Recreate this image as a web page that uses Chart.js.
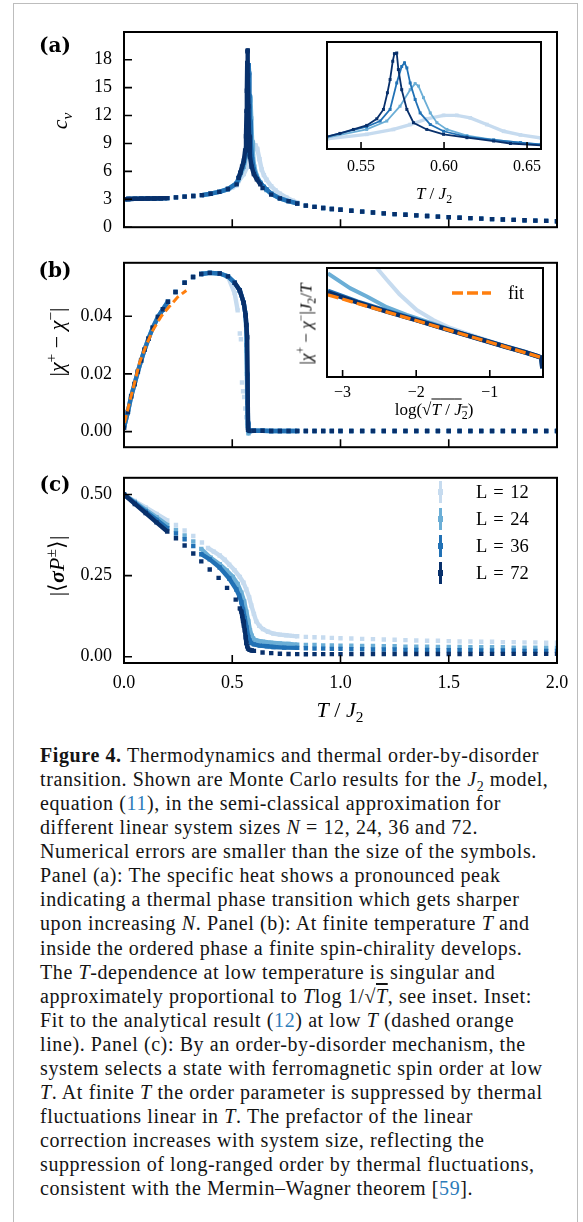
<!DOCTYPE html>
<html>
<head>
<meta charset="utf-8">
<title>Figure 4</title>
<script src="https://cdn.jsdelivr.net/npm/chart.js@4.4.1/dist/chart.umd.min.js"></script>
<style>
  body { margin: 0; background: #fff; }
  #page { position: relative; width: 583px; height: 1222px; overflow: hidden; font-family: "Liberation Serif", "Times New Roman", serif; color: #000; }
  #page canvas { position: absolute; }
  .frame { position: absolute; left: 13px; top: 3px; width: 563px; height: 1260px; border: 1px solid #bdbdbd; border-bottom: 0; }
  .lab { position: absolute; white-space: nowrap; transform: translate(-50%, -50%); line-height: 1; }
  .rot { transform: translate(-50%, -50%) rotate(-90deg); }
  .panel { font-family: "DejaVu Serif", serif; font-weight: bold; font-size: 20px; }
  .ax { font-size: 22px; }
  .axs { font-size: 17px; }
  sub, sup { font-size: 70%; line-height: 0; }
  .ov { text-decoration: overline; }
  .caption { position: absolute; left: 40px; top: 743px; font-size: 20px; letter-spacing: 0.6px; line-height: 24.06px; white-space: nowrap; color: #141414; }
  .caption .ref { color: #2b7bb9; }
  .leg { position: absolute; font-size: 18.5px; line-height: 1; white-space: nowrap; word-spacing: 2px; }
</style>
</head>
<body>
<div id="page">
  <div class="frame"></div>
</div>
<script>
const SERIES = ['L = 12', 'L = 24', 'L = 36', 'L = 72'];
const COLORS = ['#c6dbef', '#6baed6', '#2171b5', '#08306b'];
const FIT_COLOR = '#ff7f0e';

// high temperature grid shared by all panels (T/J2)
const tTail = [0.84, 0.88, 0.92, 0.96, 1.00, 1.05, 1.10, 1.15, 1.20, 1.25, 1.30, 1.35, 1.40,
               1.45, 1.50, 1.55, 1.60, 1.65, 1.70, 1.75, 1.80, 1.85, 1.90, 1.95, 2.00];

// ---- panel (a): specific heat c_v ----
const tCvLow = [0.005, 0.02, 0.05, 0.08, 0.11, 0.14, 0.17, 0.20, 0.24, 0.28, 0.32];
const cvLow  = [3.02, 3.03, 3.05, 3.06, 3.08, 3.09, 3.11, 3.13, 3.20, 3.28, 3.36];
const tCv12 = [0.36, 0.40, 0.44, 0.48, 0.50, 0.52, 0.5293, 0.5534, 0.5695, 0.5796, 0.5896, 0.5997,
               0.6077, 0.6158, 0.6258, 0.6359, 0.646, 0.6585, 0.68, 0.70, 0.72, 0.75, 0.78, 0.80];
const cv12  = [3.45, 3.6, 3.8, 4.05, 4.25, 4.5, 4.95, 5.7, 6.5, 7.3, 8.24, 8.8,
               8.8, 8.4, 7.3, 6.2, 5.6, 5.1, 4.4, 3.95, 3.6, 3.2, 2.85, 2.65];
const tCv24 = [0.36, 0.40, 0.44, 0.48, 0.52, 0.5293, 0.5534, 0.5655, 0.5735, 0.5796, 0.5826, 0.5846,
               0.5876, 0.5917, 0.5957, 0.6017, 0.6138, 0.6299, 0.646, 0.6585, 0.68, 0.72, 0.76, 0.80];
const cv24  = [3.45, 3.6, 3.8, 4.1, 4.7, 5.15, 6.5, 7.87, 10.3, 13.0, 14.0, 13.6,
               11.7, 9.2, 7.6, 6.5, 5.5, 4.77, 4.33, 4.0, 3.6, 3.1, 2.8, 2.55];
const tCv36 = [0.36, 0.40, 0.44, 0.48, 0.52, 0.5293, 0.5534, 0.5615, 0.5675, 0.5715, 0.5745, 0.5762, 0.5776,
               0.5796, 0.5826, 0.5856, 0.5917, 0.5997, 0.6138, 0.6299, 0.646, 0.6585, 0.68, 0.72, 0.76, 0.80];
const cv36  = [3.45, 3.6, 3.8, 4.1, 4.7, 5.3, 6.94, 7.87, 9.77, 14.1, 16.8, 17.4, 16.56,
               14.1, 11.4, 9.2, 7.3, 6.2, 5.3, 4.77, 4.33, 4.06, 3.6, 3.1, 2.8, 2.55];
const tCv72 = [0.36, 0.40, 0.44, 0.48, 0.52, 0.5293, 0.5373, 0.5454, 0.5534, 0.5595, 0.5635, 0.5659, 0.5675,
               0.5691, 0.5701, 0.5715, 0.5725, 0.5745, 0.5776, 0.5816, 0.5896, 0.5997, 0.6138, 0.6299,
               0.64, 0.68, 0.72, 0.76, 0.80];
const cv72  = [3.45, 3.6, 3.8, 4.1, 4.6, 5.3, 5.85, 6.5, 7.16, 8.24, 9.77, 12.5, 14.66,
               17.65, 18.9, 19.0, 16.3, 13.0, 9.77, 7.6, 6.5, 5.7, 5.15, 4.6,
               4.2, 3.5, 3.1, 2.8, 2.55];
const cvTail = [2.32, 2.18, 2.06, 1.96, 1.87, 1.77, 1.67, 1.58, 1.49, 1.41, 1.34, 1.27, 1.20,
                1.14, 1.08, 1.02, 0.97, 0.92, 0.87, 0.83, 0.79, 0.75, 0.71, 0.68, 0.64];

// ---- panel (b): chirality |chi+ - chi-| ----
const tChiLow = [0, 0.018, 0.033, 0.049, 0.064, 0.079, 0.095, 0.113, 0.133, 0.157, 0.18, 0.203,
                 0.238, 0.28, 0.319, 0.357, 0.396, 0.442, 0.48];
const chiLow  = [0.0014, 0.0068, 0.0122, 0.0165, 0.0208, 0.0246, 0.0284, 0.0322, 0.036, 0.0397, 0.0424, 0.045,
                 0.0484, 0.0516, 0.0536, 0.0546, 0.055, 0.0548, 0.0538];
const tChi12 = [0.511, 0.525, 0.535, 0.54, 0.545, 0.55, 0.555, 0.56, 0.565, 0.57, 0.575, 0.58];
const chi12  = [0.048, 0.042, 0.034, 0.032, 0.017, 0.014, 0.012, 0.008, 0.005, 0.002, 0.001, 0.0004];
const tChi24 = [0.511, 0.535, 0.553, 0.56, 0.565, 0.567, 0.568, 0.569, 0.57, 0.572, 0.575, 0.58];
const chi24  = [0.0516, 0.0489, 0.0446, 0.041, 0.035, 0.028, 0.020, 0.012, 0.006, 0.002, -0.0006, 0.0002];
const tChi36 = [0.511, 0.535, 0.553, 0.562, 0.565, 0.567, 0.569, 0.571, 0.573, 0.576, 0.58];
const chi36  = [0.0516, 0.0489, 0.0446, 0.0403, 0.037, 0.030, 0.020, 0.010, 0.003, 0.0004, 0.0002];
const tChi72 = [0.511, 0.535, 0.553, 0.562, 0.565, 0.569, 0.573, 0.58];
const chi72  = [0.0516, 0.0489, 0.0446, 0.0403, 0.037, 0.0327, 0.0006, 0.0003];
const tChiMid = [0.60, 0.64, 0.68, 0.72, 0.76, 0.80];
const chiMid  = [0.0003, 0.0003, 0.0002, 0.0002, 0.0002, 0.0002];
const chiTail = [0.0002, 0.0002, 0.0002, 0.0002, 0.0002, 0.0002, 0.0002, 0.0002, 0.0002, 0.0002, 0.0002, 0.0002, 0.0002,
                 0.0002, 0.0002, 0.0002, 0.0002, 0.0002, 0.0002, 0.0002, 0.0002, 0.0002, 0.0002, 0.0002, 0.0002];
const fitT   = [0.002, 0.018, 0.049, 0.072, 0.103, 0.133, 0.172, 0.211, 0.249, 0.288];
const fitChi = [0.003, 0.0079, 0.017, 0.024, 0.030, 0.0351, 0.040, 0.0435, 0.0467, 0.0489];

// inset (b): |chi+ - chi-| J2/T against log(sqrt(T/J2)), arbitrary units
const logT12 = [-2.6, -2.535, -2.4, -2.22, -1.993, -1.767, -1.542, -1.316, -1.0, -0.7, -0.45, -0.3];
const ratio12 = [1.05, 1.0, 0.892, 0.754, 0.615, 0.523, 0.452, 0.40, 0.33, 0.26, 0.205, 0.175];
const logT24 = [-3.2, -2.9, -2.67, -2.4, -2.13, -1.77, -1.4, -1.0, -0.6, -0.35, -0.3, -0.285];
const ratio24 = [0.95, 0.815, 0.738, 0.64, 0.57, 0.49, 0.405, 0.322, 0.24, 0.19, 0.178, 0.08];
const logT36 = [-3.2, -2.8, -2.4, -2.0, -1.6, -1.2, -0.8, -0.5, -0.35, -0.3, -0.285];
const ratio36 = [0.79, 0.692, 0.605, 0.525, 0.442, 0.362, 0.282, 0.224, 0.19, 0.178, 0.08];
const logT72 = [-3.2, -2.8, -2.4, -2.0, -1.6, -1.2, -0.8, -0.5, -0.35, -0.3, -0.285];
const ratio72 = [0.775, 0.685, 0.60, 0.522, 0.44, 0.36, 0.28, 0.222, 0.19, 0.178, 0.08];
const fitLogT = [-3.2, -2.5, -2.0, -1.5, -1.0, -0.5, -0.28];
const fitRatio = [0.754, 0.616, 0.518, 0.418, 0.319, 0.219, 0.175];

// ---- panel (c): order parameter |<sigma P>| ----
const tOpLow = [0, 0.05, 0.10, 0.15, 0.20, 0.24, 0.28, 0.32];
const op12Low = [0.5, 0.48, 0.46, 0.44, 0.42, 0.406, 0.389, 0.372];
const op24Low = [0.5, 0.477, 0.453, 0.43, 0.406, 0.391, 0.374, 0.355];
const op36Low = [0.5, 0.474, 0.448, 0.422, 0.396, 0.38, 0.362, 0.341];
const op72Low = [0.5, 0.471, 0.443, 0.414, 0.386, 0.365, 0.343, 0.318];
const tOp12 = [0.36, 0.388, 0.415, 0.442, 0.465, 0.486, 0.51, 0.535, 0.552, 0.565, 0.578, 0.588, 0.60,
               0.611, 0.625, 0.642, 0.665, 0.69, 0.72, 0.75, 0.775, 0.80];
const op12  = [0.352, 0.335, 0.324, 0.312, 0.299, 0.284, 0.267, 0.246, 0.228, 0.207, 0.183, 0.158, 0.132,
               0.109, 0.095, 0.085, 0.077, 0.071, 0.068, 0.066, 0.064, 0.063];
const tOp24 = [0.357, 0.40, 0.442, 0.475, 0.503, 0.525, 0.542, 0.555, 0.565, 0.574, 0.582, 0.59, 0.596,
               0.61, 0.642, 0.68, 0.72, 0.76, 0.80];
const op24  = [0.332, 0.305, 0.285, 0.265, 0.246, 0.224, 0.197, 0.17, 0.139, 0.11, 0.081, 0.065, 0.056,
               0.05, 0.046, 0.043, 0.041, 0.039, 0.037];
const tOp36 = [0.357, 0.396, 0.442, 0.486, 0.519, 0.532, 0.542, 0.55, 0.558, 0.566, 0.574, 0.58, 0.588,
               0.60, 0.627, 0.66, 0.69, 0.74, 0.80];
const op36  = [0.316, 0.300, 0.275, 0.241, 0.207, 0.188, 0.168, 0.145, 0.119, 0.09, 0.061, 0.05, 0.042,
               0.038, 0.034, 0.032, 0.030, 0.028, 0.027];
const tOp72 = [0.357, 0.396, 0.437, 0.476, 0.516, 0.535, 0.542, 0.546, 0.55, 0.554, 0.558, 0.562, 0.565,
               0.569, 0.573, 0.58, 0.59, 0.60, 0.64, 0.68, 0.72, 0.76, 0.80];
const op72  = [0.294, 0.269, 0.243, 0.212, 0.176, 0.149, 0.139, 0.125, 0.11, 0.095, 0.081, 0.06, 0.042,
               0.032, 0.025, 0.021, 0.019, 0.018, 0.0127, 0.011, 0.009, 0.0082, 0.0078];
const op12Tail = [0.061, 0.060, 0.059, 0.058, 0.057, 0.056, 0.055, 0.054, 0.053, 0.052, 0.051, 0.050, 0.049,
                  0.049, 0.048, 0.047, 0.047, 0.046, 0.046, 0.045, 0.045, 0.044, 0.044, 0.043, 0.043];
const op24Tail = [0.036, 0.036, 0.035, 0.035, 0.034, 0.034, 0.033, 0.033, 0.032, 0.032, 0.031, 0.031, 0.031,
                  0.030, 0.030, 0.030, 0.029, 0.029, 0.029, 0.029, 0.028, 0.028, 0.028, 0.028, 0.028];
const op36Tail = [0.026, 0.025, 0.025, 0.024, 0.024, 0.023, 0.023, 0.022, 0.022, 0.022, 0.021, 0.021, 0.021,
                  0.020, 0.020, 0.020, 0.020, 0.019, 0.019, 0.019, 0.019, 0.018, 0.018, 0.018, 0.018];
const op72Tail = [0.0076, 0.0077, 0.0078, 0.0078, 0.0079, 0.0080, 0.0080, 0.0081, 0.0081, 0.0082, 0.0082, 0.0083, 0.0083,
                  0.0083, 0.0084, 0.0084, 0.0084, 0.0085, 0.0085, 0.0085, 0.0086, 0.0086, 0.0086, 0.0087, 0.0087];

// ---- ticks ----
const tTicks = [0, 0.5, 1.0, 1.5, 2.0];
const tTickLabels = ['0.0', '0.5', '1.0', '1.5', '2.0'];
const cvTicks = [0, 3, 6, 9, 12, 15, 18];
const cvTickLabels = ['0', '3', '6', '9', '12', '15', '18'];
const chiTicks = [0, 0.02, 0.04];
const chiTickLabels = ['0.00', '0.02', '0.04'];
const opTicks = [0, 0.25, 0.5];
const opTickLabels = ['0.00', '0.25', '0.50'];
const insetTTicks = [0.55, 0.60, 0.65];
const insetTTickLabels = ['0.55', '0.60', '0.65'];
const insetLogTicks = [-3, -2, -1];
const insetLogTickLabels = ['\u22123', '\u22122', '\u22121'];

// T ranges where the simulation grid is so dense that the markers merge into a band
const denseA = [[[0, 0.2], [0.355, 0.81]], [[0, 0.2], [0.355, 0.81]], [[0, 0.2], [0.355, 0.81]], [[0, 0.2], [0.525, 0.635]]];
const denseB = [[[0, 0.21], [0.35, 0.53], [0.57, 0.81]], [[0, 0.21], [0.35, 0.81]], [[0, 0.21], [0.35, 0.81]], [[0.5, 0.575]]];
const denseC = [[[0, 0.2], [0.38, 0.81]], [[0, 0.2], [0.35, 0.81]], [[0, 0.2], [0.35, 0.81]], [[0, 0.2], [0.53, 0.6]]];

Chart.defaults.font.family = 'Liberation Serif';

// spines and inward ticks, like the original matplotlib axes
const axesFrame = {
    id: 'axesFrame',
    beforeDatasetsDraw: function (chart, args, opts) {
        if (!opts.white) return;
        const a = chart.chartArea;
        chart.ctx.save();
        chart.ctx.fillStyle = '#fff';
        chart.ctx.fillRect(a.left, a.top, a.right - a.left, a.bottom - a.top);
        chart.ctx.restore();
    },
    afterDraw: function (chart, args, opts) {
        const ctx = chart.ctx;
        const a = chart.chartArea;
        const sx = chart.scales.x, sy = chart.scales.y;
        ctx.save();
        ctx.strokeStyle = '#000';
        ctx.lineWidth = 1.6;
        ctx.beginPath();
        sx.ticks.forEach(t => {
            const px = sx.getPixelForValue(t.value);
            ctx.moveTo(px, a.bottom);
            ctx.lineTo(px, a.bottom - opts.len);
        });
        if (opts.yTicks) {
            sy.ticks.forEach(t => {
                const py = sy.getPixelForValue(t.value);
                ctx.moveTo(a.left, py);
                ctx.lineTo(a.left + opts.len, py);
            });
        }
        ctx.stroke();
        ctx.lineWidth = 2;
        ctx.strokeRect(a.left, a.top, a.right - a.left, a.bottom - a.top);
        ctx.restore();
    }
};

function pts(ts, vs) {
    return ts.map((t, k) => ({ x: t, y: vs[k] }));
}

function inRanges(t, ranges) {
    return ranges.some(r => t >= r[0] && t <= r[1]);
}

// one series = square markers + a thick band where the markers overlap
function seriesSets(i, ts, vs, dense) {
    const rank = 3 - i; // L = 72 drawn on top
    return [
        {
            label: SERIES[i], data: pts(ts, vs), showLine: false, clip: 0,
            pointStyle: 'rect', pointRadius: 3.1, pointBackgroundColor: COLORS[i], pointBorderWidth: 0,
            order: rank * 2 + 1
        },
        {
            label: SERIES[i], data: ts.map((t, k) => ({ x: t, y: inRanges(t, dense) ? vs[k] : null })),
            showLine: true, spanGaps: false, clip: 0, borderColor: COLORS[i], borderWidth: 4.4,
            borderJoinStyle: 'round', pointRadius: 0, order: rank * 2 + 2
        }
    ];
}

function linScale(min, max, ticks, labels, opt) {
    return {
        type: 'linear', min: min, max: max, display: opt.display !== false,
        afterBuildTicks: s => { s.ticks = ticks.map(v => ({ value: v })); },
        afterFit: s => {
            if (opt.w !== undefined) s.width = opt.w;
            if (opt.h !== undefined) s.height = opt.h;
        },
        grid: { display: false, drawTicks: false },
        border: { display: false },
        ticks: {
            display: !!labels, autoSkip: false, maxRotation: 0, padding: opt.pad || 0,
            color: '#000', font: { family: 'Liberation Serif', size: opt.fs || 18 },
            callback: (v, k) => (labels ? labels[k] : '')
        }
    };
}

function makeChart(box, pad, xScale, yScale, datasets, frameOpts) {
    const cv = document.createElement('canvas');
    cv.width = box.w;
    cv.height = box.h;
    cv.style.left = box.x + 'px';
    cv.style.top = box.y + 'px';
    document.getElementById('page').appendChild(cv);
    return new Chart(cv, {
        type: 'scatter',
        data: { datasets: datasets },
        options: {
            responsive: false, animation: false, devicePixelRatio: 1,
            layout: { padding: pad },
            plugins: { legend: { display: false }, tooltip: { enabled: false }, axesFrame: frameOpts },
            scales: { x: xScale, y: yScale }
        },
        plugins: [axesFrame]
    });
}

// full series per panel
const cvT = [tCv12, tCv24, tCv36, tCv72].map(t => tCvLow.concat(t, tTail));
const cvV = [cv12, cv24, cv36, cv72].map(v => cvLow.concat(v, cvTail));
const chiT = [tChi12, tChi24, tChi36, tChi72].map(t => tChiLow.concat(t, tChiMid, tTail));
const chiV = [chi12, chi24, chi36, chi72].map(v => chiLow.concat(v, chiMid, chiTail));
const opT = [tOp12, tOp24, tOp36, tOp72].map(t => tOpLow.concat(t, tTail));
const opV = [
    op12Low.concat(op12, op12Tail), op24Low.concat(op24, op24Tail),
    op36Low.concat(op36, op36Tail), op72Low.concat(op72, op72Tail)
];

// (a)
let setsA = [];
for (let i = 0; i < 4; i++) setsA = setsA.concat(seriesSets(i, cvT[i], cvV[i], denseA[i]));
makeChart({ x: 0, y: 0, w: 583, h: 250 }, { left: 64, right: 26, top: 32, bottom: 21 },
    linScale(0, 2, tTicks, null, { h: 0 }),
    linScale(0, 20.98, cvTicks, cvTickLabels, { w: 60, pad: 12 }),
    setsA, { len: 8, yTicks: true });

// (b)
let setsB = [];
for (let i = 0; i < 4; i++) setsB = setsB.concat(seriesSets(i, chiT[i], chiV[i], denseB[i]));
setsB.push({
    label: 'fit', data: pts(fitT, fitChi), showLine: true, clip: 0, borderColor: FIT_COLOR,
    borderWidth: 3, borderDash: [8, 4], pointRadius: 0, order: 0
});
makeChart({ x: 0, y: 240, w: 583, h: 230 }, { left: 64, right: 26, top: 14, bottom: 19 },
    linScale(0, 2, tTicks, null, { h: 0 }),
    linScale(-0.0054, 0.0585, chiTicks, chiTickLabels, { w: 60, pad: 12 }),
    setsB, { len: 8, yTicks: true });

// (c)
let setsC = [];
for (let i = 0; i < 4; i++) setsC = setsC.concat(seriesSets(i, opT[i], opV[i], denseC[i]));
makeChart({ x: 0, y: 455, w: 583, h: 245 }, { left: 64, right: 26, top: 12, bottom: 7 },
    linScale(0, 2, tTicks, tTickLabels, { h: 30, pad: 9 }),
    linScale(-0.0195, 0.5516, opTicks, opTickLabels, { w: 60, pad: 12 }),
    setsC, { len: 8, yTicks: true });

// inset (a): zoom on the peak, lines with small squares
const insetASets = [0, 1, 2, 3].map(i => ({
    label: SERIES[i], data: pts(cvT[i], cvV[i]), showLine: true, clip: 0,
    borderColor: COLORS[i], borderWidth: i === 0 ? 3.4 : 1.8,
    pointStyle: 'rect', pointRadius: i === 0 ? 2.6 : 2.1, pointBackgroundColor: COLORS[i], pointBorderWidth: 0,
    order: 3 - i
}));
makeChart({ x: 300, y: 35, w: 260, h: 145 }, { left: 27, right: 19, top: 7, bottom: 6 },
    linScale(0.5295, 0.6584, insetTTicks, insetTTickLabels, { h: 25, pad: 8, fs: 16 }),
    linScale(3.3, 20.8, [], null, { display: false }),
    insetASets, { len: 7, yTicks: false, white: true });

// inset (b): log plot with the analytical fit
const logT = [logT12, logT24, logT36, logT72];
const ratio = [ratio12, ratio24, ratio36, ratio72];
const insetBSets = [0, 1, 2, 3].map(i => ({
    label: SERIES[i], data: pts(logT[i], ratio[i]), showLine: true, clip: 0,
    borderColor: COLORS[i], borderWidth: i < 2 ? 4 : 4.6, borderJoinStyle: 'round',
    pointRadius: 0, order: 4 - i
}));
insetBSets.push({
    label: 'fit', data: pts(fitLogT, fitRatio), showLine: true, clip: 0, borderColor: FIT_COLOR,
    borderWidth: 3.3, borderDash: [11, 4], pointRadius: 0, order: 0
});
makeChart({ x: 300, y: 258, w: 262, h: 142 }, { left: 27, right: 19, top: 10, bottom: 1 },
    linScale(-3.212, -0.277, insetLogTicks, insetLogTickLabels, { h: 22, pad: 6, fs: 16 }),
    linScale(0, 1, [], null, { display: false }),
    insetBSets, { len: 7, yTicks: false, white: true });

// legend of panel (c), error-bar style markers
const page = document.getElementById('page');
SERIES.forEach((name, i) => {
    const y = 492 + i * 27;
    const bar = document.createElement('div');
    bar.style.cssText = 'position:absolute;left:439px;top:' + (y - 11) + 'px;width:2.6px;height:22px;background:' + COLORS[i];
    const sq = document.createElement('div');
    sq.style.cssText = 'position:absolute;left:437.5px;top:' + (y - 2.8) + 'px;width:5.6px;height:5.6px;background:' + COLORS[i];
    const txt = document.createElement('div');
    txt.className = 'leg';
    txt.style.left = '476px';
    txt.style.top = (y - 9) + 'px';
    txt.textContent = name;
    page.appendChild(bar);
    page.appendChild(sq);
    page.appendChild(txt);
});
</script>
<script>
// text overlays: panel letters, axis titles, inset legend, caption
document.getElementById('page').insertAdjacentHTML('beforeend', `
  <div class="lab panel" style="left:55px;top:45px">(a)</div>
  <div class="lab panel" style="left:55px;top:270px">(b)</div>
  <div class="lab panel" style="left:55px;top:484px">(c)</div>

  <div class="lab rot ax" style="left:60px;top:121px"><i>c</i><sub><i>v</i></sub></div>
  <div class="lab rot ax" style="left:57px;top:342px">|<i>χ</i><sup>+</sup> − <i>χ</i><sup>−</sup>|</div>
  <div class="lab rot ax" style="left:57px;top:566px">|⟨<b><i>σ</i></b><i>P</i><sup>±</sup>⟩|</div>
  <div class="lab ax" style="left:340px;top:710px"><i>T</i> / <i>J</i><sub>2</sub></div>

  <div class="lab axs" style="left:434px;top:193px"><i>T</i> / <i>J</i><sub>2</sub></div>
  <div class="lab axs" style="left:434px;top:409px">log(√<span class="ov"><i>T</i> / <i>J</i><sub>2</sub></span>)</div>
  <div class="lab rot axs" style="left:306px;top:324px">|<i>χ</i><sup>+</sup> − <i>χ</i><sup>−</sup>|<i>J</i><sub>2</sub>/<i>T</i></div>

  <svg style="position:absolute;left:452px;top:288px" width="40" height="10"><line x1="0" y1="5" x2="39" y2="5" stroke="#ff7f0e" stroke-width="3.3" stroke-dasharray="11 4"/></svg>
  <div class="lab" style="left:516px;top:293px;font-size:18px">fit</div>

  <div class="caption">
<b>Figure 4.</b> Thermodynamics and thermal order-by-disorder<br>
transition. Shown are Monte Carlo results for the <i>J</i><sub>2</sub> model,<br>
equation (<span class="ref">11</span>), in the semi-classical approximation for<br>
different linear system sizes <i>N</i> = 12, 24, 36 and 72.<br>
Numerical errors are smaller than the size of the symbols.<br>
Panel (a): The specific heat shows a pronounced peak<br>
indicating a thermal phase transition which gets sharper<br>
upon increasing <i>N</i>. Panel (b): At finite temperature <i>T</i> and<br>
inside the ordered phase a finite spin-chirality develops.<br>
The <i>T</i>-dependence at low temperature is singular and<br>
approximately proportional to <i>T</i>log 1/√<span class="ov"><i>T</i></span>, see inset. Inset:<br>
Fit to the analytical result (<span class="ref">12</span>) at low <i>T</i> (dashed orange<br>
line). Panel (c): By an order-by-disorder mechanism, the<br>
system selects a state with ferromagnetic spin order at low<br>
<i>T</i>. At finite <i>T</i> the order parameter is suppressed by thermal<br>
fluctuations linear in <i>T</i>. The prefactor of the linear<br>
correction increases with system size, reflecting the<br>
suppression of long-ranged order by thermal fluctuations,<br>
consistent with the Mermin–Wagner theorem [<span class="ref">59</span>].
  </div>
`);
</script>
</body>
</html>
